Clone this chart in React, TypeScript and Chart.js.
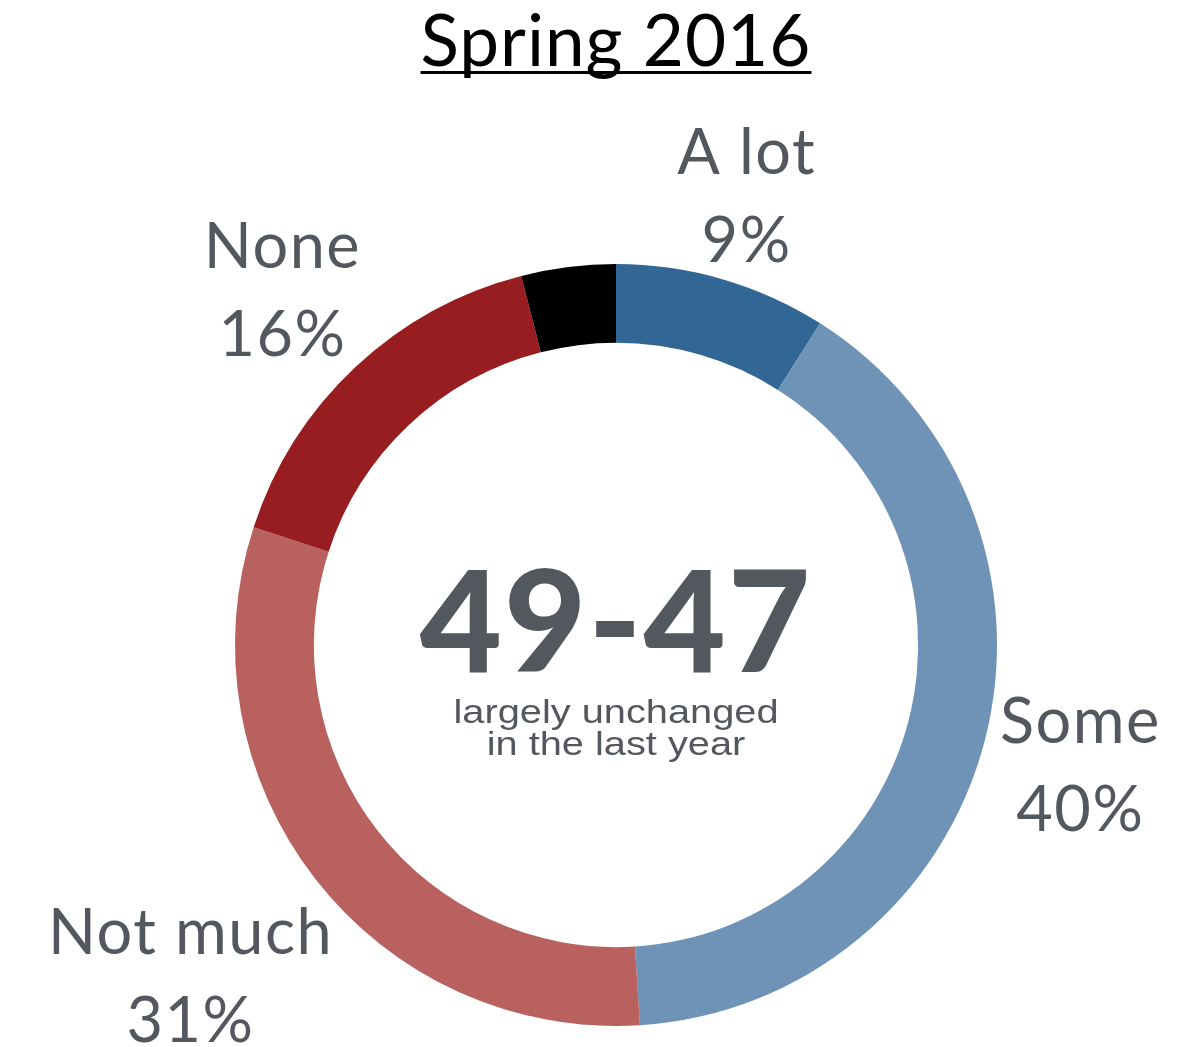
import React, { useEffect, useRef } from "react";
import { Chart, registerables } from "chart.js";

Chart.register(...registerables);

// ---- data ----
const categories = ["A lot", "Some", "Not much", "None", "No answer"];
const values = [9, 40, 31, 16, 4];
const showLabel = [true, true, true, true, false];
const sliceColors = ["#326695", "#6f93b6", "#b8615f", "#981d20", "#000000"];
const titleText = "Spring 2016";
const centerNumber = "49-47";
const centerLines = ["largely unchanged", "in the last year"];

const TEXT_GRAY = "#53575e";

const labelPlugin = {
  id: "donutText",
  afterDraw(chart: any) {
    const ctx = chart.ctx as any;
    const meta = chart.getDatasetMeta(0);
    const first = meta.data[0];
    const cx0 = first.x;
    const cy0 = first.y;

    ctx.save();
    // ---- title ----
    ctx.fillStyle = "#000";
    ctx.font = "71px Lato";
    ctx.letterSpacing = "1px";
    ctx.textAlign = "center";
    ctx.textBaseline = "alphabetic";
    ctx.fillText(titleText, cx0, 66);
    const tw = ctx.measureText(titleText).width;
    ctx.fillRect(cx0 - tw / 2, 71, tw, 3);

    // ---- slice labels ----
    ctx.fillStyle = TEXT_GRAY;
    ctx.font = "63px Lato";
    ctx.letterSpacing = "1.5px";
    const cap = 45;
    const lineStep = 88;
    const blockH = cap + lineStep;
    const gap = 4;
    meta.data.forEach((arc: any, i: number) => {
      if (!showLabel[i]) return;
      const p = arc.getProps(["startAngle", "endAngle", "outerRadius", "x", "y"], true);
      const mid = (p.startAngle + p.endAngle) / 2;
      const ux = Math.cos(mid);
      const uy = Math.sin(mid);
      const lines = [categories[i], values[i] + "%"];
      const w = Math.max(...lines.map((l) => ctx.measureText(l).width));
      const ext = Math.abs(ux) * (w / 2) + Math.abs(uy) * (blockH / 2);
      const r = p.outerRadius + gap + ext;
      const lx = p.x + ux * r;
      const ly = p.y + uy * r;
      const b1 = ly - blockH / 2 + cap;
      ctx.fillText(lines[0], lx, b1);
      ctx.fillText(lines[1], lx, b1 + lineStep);
    });

    // ---- center text ----
    ctx.font = "900 142px Lato";
    ctx.letterSpacing = "2px";
    ctx.fillText(centerNumber, cx0, cy0 + 27);

    ctx.letterSpacing = "0px";
    ctx.font = "34px 'Liberation Sans', Arial, sans-serif";
    const mw = ctx.measureText(centerLines[0]).width;
    const sx = 325 / mw;
    centerLines.forEach((line, k) => {
      ctx.save();
      ctx.translate(cx0, cy0 + 78 + k * 32);
      ctx.scale(sx, 1);
      ctx.fillText(line, 0, 0);
      ctx.restore();
    });
    ctx.restore();
  },
};

export default function App() {
  const ref = useRef<HTMLCanvasElement | null>(null);

  useEffect(() => {
    if (!ref.current) return;
    const chart = new Chart(ref.current, {
      type: "doughnut",
      data: {
        labels: categories,
        datasets: [
          {
            data: values,
            backgroundColor: sliceColors,
            borderWidth: 0,
          },
        ],
      },
      options: {
        responsive: false,
        animation: false,
        cutout: "79.3%",
        layout: { padding: { left: 235, right: 192, top: 264, bottom: 21 } },
        plugins: {
          legend: { display: false },
          tooltip: { enabled: false },
          title: { display: false },
        },
      },
      plugins: [labelPlugin],
    });
    return () => chart.destroy();
  }, []);

  return (
    <div style={{ position: "absolute", left: 0, top: 0, width: 1189, height: 1047, background: "#fff" }}>
      <canvas ref={ref} width={1189} height={1047} style={{ width: 1189, height: 1047 }} />
    </div>
  );
}
